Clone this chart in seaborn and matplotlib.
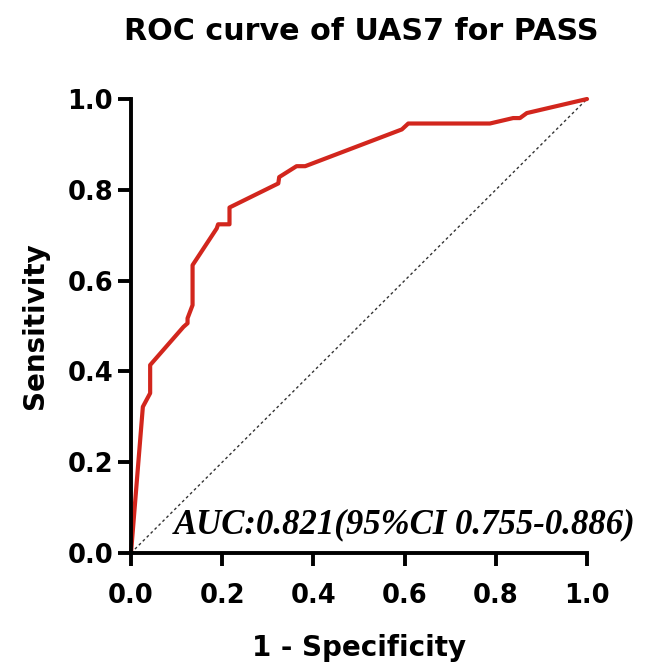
import numpy as np
import pandas as pd
import matplotlib
matplotlib.use("Agg")
import matplotlib.pyplot as plt
import seaborn as sns

# ROC points
fpr = [0, 0.026, 0.042, 0.042, 0.115, 0.124, 0.124, 0.135, 0.135, 0.188, 0.191,
       0.216, 0.216, 0.323, 0.325, 0.363, 0.382, 0.594, 0.608, 0.787, 0.838,
       0.853, 0.868, 1.0]
tpr = [0, 0.322, 0.352, 0.414, 0.498, 0.506, 0.517, 0.546, 0.634, 0.715, 0.724,
       0.724, 0.761, 0.814, 0.828, 0.852, 0.852, 0.933, 0.946, 0.946, 0.958,
       0.958, 0.969, 1.0]
ref_line = [0, 1]
ticks = [0.0, 0.2, 0.4, 0.6, 0.8, 1.0]
tick_labels = ["0.0", "0.2", "0.4", "0.6", "0.8", "1.0"]

D = pd.DataFrame({"fpr": fpr, "tpr": tpr})

sns.set_style("ticks")
plt.rcParams['font.family'] = ['DejaVu Sans']
plt.rcParams['text.color'] = 'black'
plt.rcParams['axes.labelcolor'] = 'black'
plt.rcParams['xtick.color'] = 'black'
plt.rcParams['ytick.color'] = 'black'
plt.rcParams['axes.edgecolor'] = 'black'

fig = plt.figure(figsize=(6.48, 6.63), dpi=100)
ax = fig.add_axes([131/648, 110/663, 456/648, 454/663])

ax.plot(ref_line, ref_line, color='#333333', linestyle=(0, (2, 2)), linewidth=1.0,
        clip_on=False)
sns.lineplot(data=D, x="fpr", y="tpr", sort=False, estimator=None, ax=ax,
             color='#d2261d', linewidth=3.0, clip_on=False)

ax.set_xlim(0, 1)
ax.set_ylim(0, 1)
ax.set_xticks(ticks)
ax.set_xticklabels(tick_labels)
ax.set_yticks(ticks)
ax.set_yticklabels(tick_labels)
sns.despine(ax=ax)
for s in ['left', 'bottom']:
    ax.spines[s].set_linewidth(2.8)
ax.tick_params(axis='both', length=9.4, width=2.8, labelsize=18.5)
ax.tick_params(axis='x', pad=12)
ax.tick_params(axis='y', pad=3.5)
for lab in ax.get_xticklabels() + ax.get_yticklabels():
    lab.set_fontweight('bold')

ax.set_xlabel("1 - Specificity", fontsize=20, fontweight='bold', labelpad=18)
ax.set_ylabel("Sensitivity", fontsize=20, fontweight='bold', labelpad=13)

fig.text(361/648, 1 - 32/663, "ROC curve of UAS7 for PASS", ha='center', va='center',
         fontsize=21.7, fontweight='bold')

ax.text(0.094, 0.044, "AUC:0.821(95%CI 0.755-0.886)", family='Liberation Serif',
        fontsize=25, fontweight='bold', fontstyle='italic', clip_on=False,
        transform=ax.transData)

plt.savefig('out.png', dpi=100)
